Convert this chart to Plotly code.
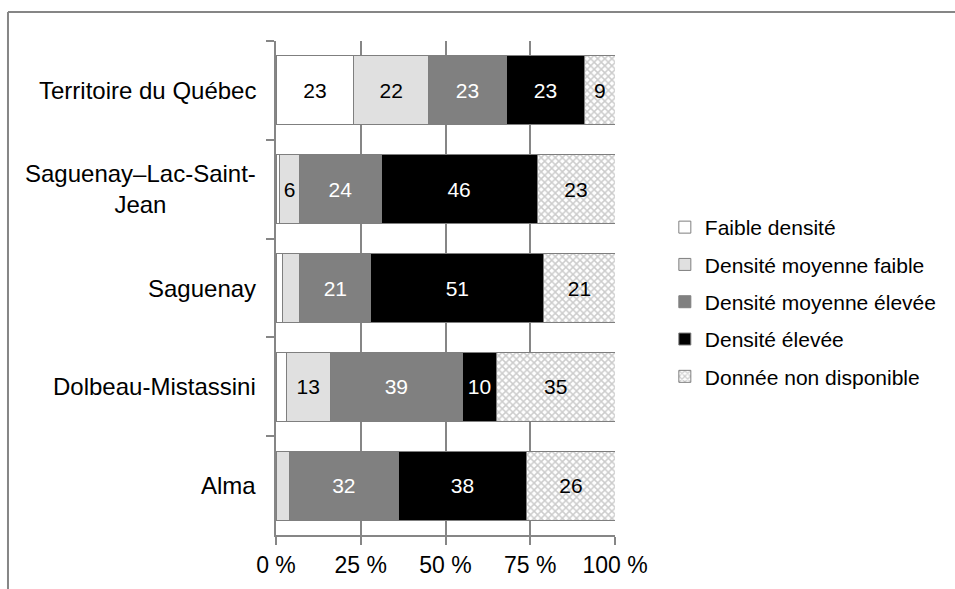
import plotly.graph_objects as go

categories = ["Territoire du Québec", "Saguenay–Lac-Saint-Jean", "Saguenay",
              "Dolbeau-Mistassini", "Alma"]
category_labels = ["Territoire du Québec", "Saguenay–Lac-Saint-<br>Jean", "Saguenay",
                   "Dolbeau-Mistassini", "Alma"]
series_names = ["Faible densité", "Densité moyenne faible", "Densité moyenne élevée",
                "Densité élevée", "Donnée non disponible"]
faible = [23, 1, 2, 3, 0]
moyenne_faible = [22, 6, 5, 13, 4]
moyenne_elevee = [23, 24, 21, 39, 32]
elevee = [23, 46, 51, 10, 38]
non_dispo = [9, 23, 21, 35, 26]
tick_values = [0, 25, 50, 75, 100]
tick_labels = ["0 %", "25 %", "50 %", "75 %", "100 %"]

series_values = [faible, moyenne_faible, moyenne_elevee, elevee, non_dispo]
fills = ["#ffffff", "#e0e0e0", "#808080", "#000000", "#ffffff"]
text_colors = ["#000000", "#000000", "#ffffff", "#ffffff", "#000000"]

FONT = "Liberation Sans, Arial, sans-serif"
GRAY = "#868686"

fig = go.Figure()
for i, (name, vals) in enumerate(zip(series_names, series_values)):
    marker = dict(color=fills[i], line=dict(color="#7f7f7f", width=1))
    if i == 4:
        marker["pattern"] = dict(shape="x", fgcolor="#999999", bgcolor="#ffffff",
                                 size=5, solidity=0.5, fillmode="overlay")
    fig.add_trace(go.Bar(
        y=categories, x=vals, name=name, orientation="h",
        marker=marker,
        text=[str(v) if v >= 6 else "" for v in vals],
        textposition="inside", insidetextanchor="middle", textangle=0,
        textfont=dict(color=text_colors[i], size=21, family=FONT),
        legendgroup=name, hoverinfo="skip",
    ))

for cat, lab in zip(categories, category_labels):
    fig.add_annotation(x=0, xref="paper", y=cat, yref="y", text=lab,
                       showarrow=False, xanchor="right", align="center",
                       xshift=-18, font=dict(size=24, family=FONT, color="#000000"))

# outer chart border (partially visible)
fig.add_shape(type="line", xref="paper", yref="paper", x0=-0.7906, x1=2.2,
              y0=1.0587, y1=1.0587, line=dict(color=GRAY, width=2))
fig.add_shape(type="line", xref="paper", yref="paper", x0=-0.7906, x1=-0.7906,
              y0=1.0587, y1=-0.2, line=dict(color=GRAY, width=2))

fig.update_layout(
    width=955, height=589,
    margin=dict(l=276, r=340, t=41, b=54),
    paper_bgcolor="white", plot_bgcolor="white",
    barmode="stack", bargap=0.3,
    font=dict(family=FONT, color="#000000"),
    showlegend=True,
    legend=dict(x=1.147, xanchor="left", y=0.4717, yanchor="middle",
                traceorder="grouped", tracegroupgap=7,
                font=dict(size=21, family=FONT), itemwidth=30,
                bgcolor="rgba(0,0,0,0)"),
    xaxis=dict(range=[0, 100], tickvals=tick_values, ticktext=tick_labels,
               showgrid=True, gridcolor=GRAY, gridwidth=1.5,
               showline=True, linecolor=GRAY, linewidth=2,
               ticks="outside", ticklen=8, tickcolor=GRAY, tickwidth=2,
               tickfont=dict(size=23, family=FONT, color="#000000"),
               zeroline=False, fixedrange=True),
    yaxis=dict(categoryorder="array", categoryarray=categories, autorange="reversed",
               showticklabels=False, showgrid=False,
               showline=True, linecolor=GRAY, linewidth=2,
               ticks="outside", ticklen=8, tickcolor=GRAY, tickwidth=2,
               tickson="boundaries", zeroline=False, fixedrange=True),
)

fig.write_html("out.html", config={"displayModeBar": False},
               post_script="document.body.style.margin='0';")
